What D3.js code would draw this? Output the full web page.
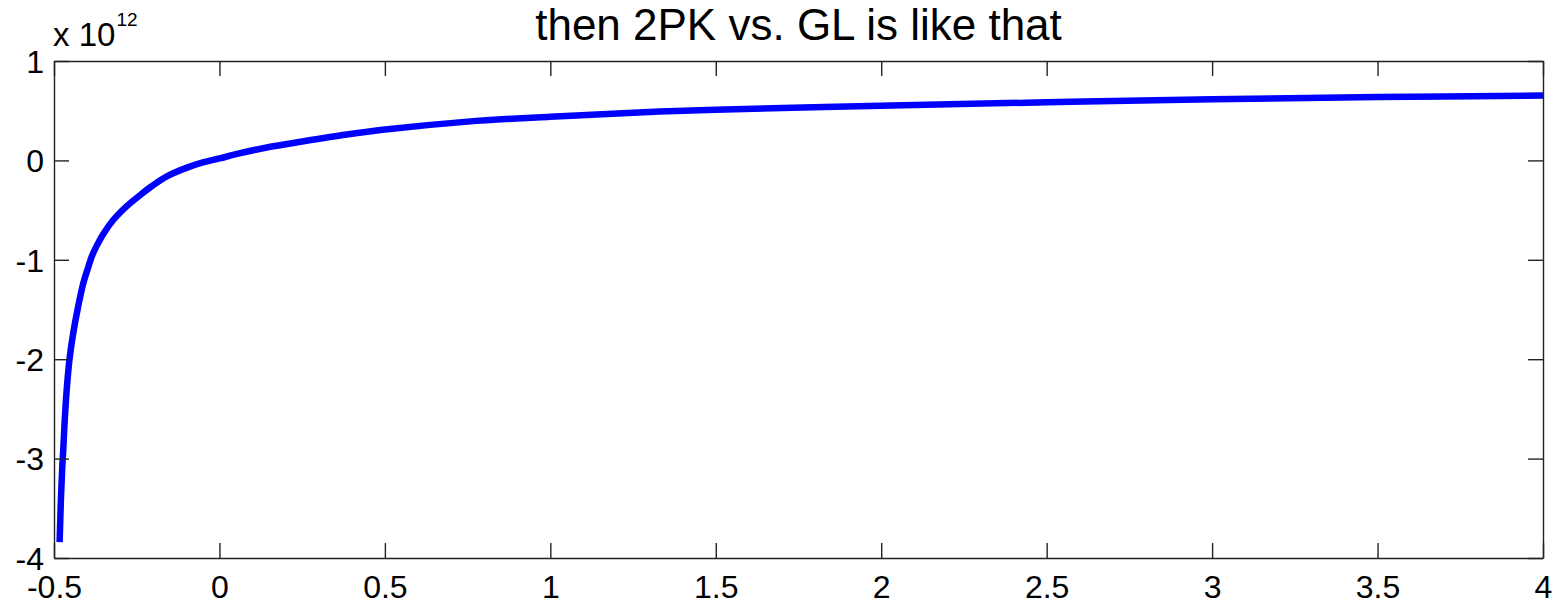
<!DOCTYPE html>
<html>
<head>
<meta charset="utf-8">
<script src="https://cdn.jsdelivr.net/npm/d3@7"></script>
<style>
  html, body { margin: 0; padding: 0; background: #fff; }
  svg { display: block; }
  text { font-family: "Liberation Sans", Arial, sans-serif; fill: #000; }
</style>
</head>
<body>
<svg id="chart" width="1555" height="604"></svg>
<script>
// GL values (x) and 2PK values (y, in units of 1e12)
const glValues = [-0.483, -0.479, -0.475, -0.472, -0.467, -0.460, -0.452, -0.442, -0.427, -0.411,
                  -0.396, -0.385, -0.371, -0.351, -0.321, -0.280, -0.240, -0.205, -0.159, -0.100,
                  -0.050, 0.0, 0.060, 0.143, 0.25, 0.385, 0.5, 0.75, 1.0, 1.25,
                  1.5, 2.0, 2.5, 3.0, 3.5, 4.0];
const pkValues = [-3.84, -3.40, -3.08, -2.91, -2.58, -2.24, -1.97, -1.74, -1.47, -1.23,
                  -1.07, -0.96, -0.86, -0.74, -0.60, -0.46, -0.35, -0.26, -0.16, -0.075,
                  -0.02, 0.02, 0.07, 0.13, 0.19, 0.26, 0.31, 0.39, 0.44, 0.48,
                  0.51, 0.55, 0.585, 0.615, 0.637, 0.652];

const xTicks = [-0.5, 0, 0.5, 1, 1.5, 2, 2.5, 3, 3.5, 4];
const yTicks = [-4, -3, -2, -1, 0, 1];
const xTickLabels = ["-0.5", "0", "0.5", "1", "1.5", "2", "2.5", "3", "3.5", "4"];
const yTickLabels = ["-4", "-3", "-2", "-1", "0", "1"];

const titleText = "then 2PK vs. GL is like that";

const W = 1555, H = 604;
const m = { left: 54, top: 61, right: 12, bottom: 46 };
const svg = d3.select("#chart");

const x = d3.scaleLinear().domain([-0.5, 4]).range([m.left, W - m.right]);
const y = d3.scaleLinear().domain([-4, 1]).range([H - m.bottom, m.top]);

const tickLen = 15;
const fontSize = 32;

// Data line
const pts = glValues.map((v, i) => [v, pkValues[i]]);
svg.append("path")
  .datum(pts)
  .attr("fill", "none")
  .attr("stroke", "#0000ff")
  .attr("stroke-width", 6.5)
  .attr("stroke-linejoin", "round")
  .attr("d", d3.line().x(d => x(d[0])).y(d => y(d[1])).curve(d3.curveCatmullRom.alpha(0.5)));

// Axes: bottom and left carry labels, top and right only inward ticks
const bottomAxis = d3.axisBottom(x).tickValues(xTicks)
  .tickFormat((d, i) => xTickLabels[i]).tickSizeInner(-tickLen).tickSizeOuter(0);
const leftAxis = d3.axisLeft(y).tickValues(yTicks)
  .tickFormat((d, i) => yTickLabels[i]).tickSizeInner(-tickLen).tickSizeOuter(0);
const topAxis = d3.axisTop(x).tickValues(xTicks).tickFormat("").tickSizeInner(-tickLen).tickSizeOuter(0);
const rightAxis = d3.axisRight(y).tickValues(yTicks).tickFormat("").tickSizeInner(-tickLen).tickSizeOuter(0);

function styleAxis(sel) {
  sel.select(".domain").attr("stroke", "#222").attr("stroke-width", 1.4);
  sel.selectAll(".tick line").attr("stroke", "#222").attr("stroke-width", 1.4);
  sel.selectAll(".tick text")
    .attr("font-family", "Liberation Sans, Arial, sans-serif")
    .attr("font-size", fontSize)
    .attr("fill", "#000");
}

svg.append("g").attr("transform", `translate(0,${H - m.bottom})`).call(bottomAxis).call(styleAxis)
  .selectAll(".tick text").attr("dy", null).attr("y", 40);
svg.append("g").attr("transform", `translate(${m.left},0)`).call(leftAxis).call(styleAxis)
  .selectAll(".tick text").attr("x", -10).attr("dy", "0.35em");
svg.append("g").attr("transform", `translate(0,${m.top})`).call(topAxis).call(styleAxis);
svg.append("g").attr("transform", `translate(${W - m.right},0)`).call(rightAxis).call(styleAxis);

// Exponent label
const expo = svg.append("text")
  .attr("x", 53).attr("y", 46)
  .attr("font-size", 33);
expo.append("tspan").text("x 10");
expo.append("tspan").attr("font-size", 19).attr("dy", -20).attr("dx", 1).text("12");

// Title
svg.append("text")
  .attr("x", (m.left + W - m.right) / 2)
  .attr("y", 40)
  .attr("text-anchor", "middle")
  .attr("font-size", 44)
  .text(titleText);
</script>
</body>
</html>
